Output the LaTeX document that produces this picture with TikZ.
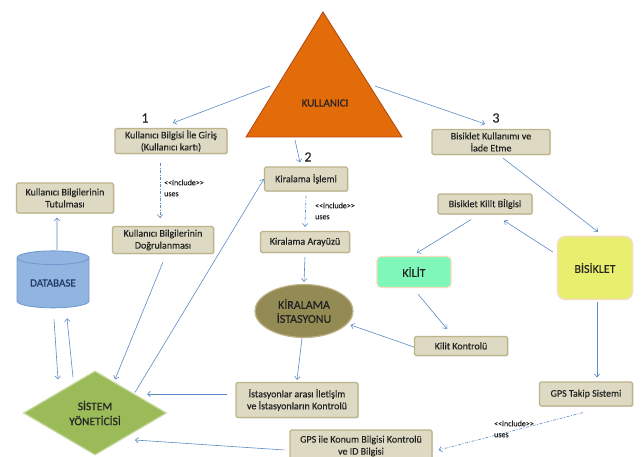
\documentclass[tikz,border=0pt]{standalone}
\usepackage{fontspec}
\setmainfont{Carlito}[FakeBold=0.3]
\newfontfamily\incfont{Carlito}[FakeBold=0.2]
\usetikzlibrary{arrows.meta,shapes.geometric,shadows}
\definecolor{boxfill}{HTML}{DDD9C3}
\definecolor{boxdraw}{HTML}{BDB48A}
\definecolor{arrc}{HTML}{5B8BC7}
\definecolor{trifill}{HTML}{E36C0A}
\definecolor{tridraw}{HTML}{B0460E}
\definecolor{dbfill}{HTML}{92B4E0}
\definecolor{dbdraw}{HTML}{6F98CF}
\definecolor{dbtext}{HTML}{1F3A64}
\definecolor{sysfill}{HTML}{9BBB59}
\definecolor{sysdraw}{HTML}{C7D9A2}
\definecolor{olivefill}{HTML}{948A54}
\definecolor{mintfill}{HTML}{7FF7B8}
\definecolor{yelfill}{HTML}{E8EE6E}
\definecolor{peach}{HTML}{F6DDBE}
\definecolor{txt}{HTML}{222222}
\begin{document}
\begin{tikzpicture}[x=1pt,y=-1pt,
  tbox/.style={draw=boxdraw, line width=1.2pt, fill=boxfill, rounded corners=1.5pt,
    align=center, font=\fontsize{10}{12}\selectfont, text=txt, inner sep=1pt,
    drop shadow={shadow xshift=1pt, shadow yshift=-1pt, opacity=0.25}},
  big/.style={align=center, font=\fontsize{12}{14}\selectfont, text=txt, inner sep=0pt},
  arr/.style={draw=arrc, line width=0.6pt, -{Straight Barb[length=3pt,width=5.5pt]}},
  inc/.style={arr, dash pattern=on 3pt off 1.5pt on 1pt off 1.5pt},
  inclabel/.style={anchor=west, align=left, font=\incfont\fontsize{8}{11}\selectfont, text=txt, inner sep=0pt},
  num/.style={font=\fontsize{14}{14}\selectfont, text=txt, inner sep=0pt}
]
\useasboundingbox (0,0) rectangle (641,457);
\fill[white] (0,0) rectangle (641,457);

% triangle KULLANICI
\coordinate (tA) at (323,12);
\coordinate (tR) at (402,137);
\coordinate (tL) at (246,137);
\draw[fill=trifill, draw=tridraw, line width=0.8pt] (tA) -- (tR) -- (tL) -- cycle;
\node[big, font=\fontsize{11}{13}\selectfont] (kul) at (325,103) {KULLANICI};
\coordinate (t1) at (270,86);
\coordinate (t2) at (295,140);
\coordinate (t3) at (375,86);

% numbers
\node[num] (n1) at (145,118) {1};
\node[num] (n2) at (308,157) {2};
\node[num] (n3) at (496,118) {3};

% boxes
\node[tbox, minimum width=112pt, minimum height=25pt] (b1) at (171,141) {Kullanıcı Bilgisi İle Giriş\\(Kullanıcı kartı)};
\node[tbox, minimum width=97pt, minimum height=30pt] (tut) at (65,198) {Kullanıcı Bilgilerinin\\Tutulması};
\node[tbox, minimum width=101pt, minimum height=27pt] (dog) at (163,240) {Kullanıcı Bilgilerinin\\Doğrulanması};
\node[tbox, minimum width=83pt, minimum height=24pt] (kis) at (306,179) {Kiralama İşlemi};
\node[tbox, minimum width=89pt, minimum height=21pt] (ara) at (305,242) {Kiralama Arayüzü};
\node[tbox, minimum width=93pt, minimum height=19pt] (kk) at (461,346) {Kilit Kontrolü};
\node[tbox, minimum width=122pt, minimum height=35pt] (ist) at (297,400) {İstasyonlar arası İletişim\\ve İstasyonların Kontrolü};
\node[tbox, minimum width=142pt, minimum height=32pt] (gpsk) at (361,446) {GPS ile Konum Bilgisi Kontrolü\\ve ID Bilgisi};
\node[tbox, minimum width=93pt, minimum height=24pt] (gpst) at (586,394) {GPS Takip Sistemi};
\node[tbox, minimum width=94pt, minimum height=20pt] (bkb) at (485,204) {Bisiklet Kilit Bİlgisi};
\node[tbox, minimum width=118pt, minimum height=25pt] (bku) at (491,142) {Bisiklet Kullanımı ve\\İade Etme};

% special shapes
\node[cylinder, shape border rotate=90, aspect=0.3, minimum width=72pt, minimum height=57pt,
  fill=dbfill, draw=dbdraw, line width=0.8pt, big, font=\fontsize{11}{13}\selectfont, text=dbtext] (db) at (53,283) {DATABASE};
\node[diamond, aspect=1.7, minimum width=143pt, minimum height=84pt, fill=sysfill, draw=sysdraw,
  line width=1.2pt, big, font=\fontsize{11.5}{15}\selectfont] (sys) at (95,413) {SİSTEM\\YÖNETİCİSİ};
\node[ellipse, minimum width=98pt, minimum height=53pt, fill=olivefill, draw=boxdraw,
  line width=1.2pt, big] (kst) at (304,311) {KİRALAMA\\İSTASYONU};
\node[rounded corners=4pt, minimum width=74pt, minimum height=31pt, fill=mintfill, draw=peach,
  line width=1.2pt, big] (kilit) at (414,272) {KİLİT};
\node[rounded corners=8pt, minimum width=75pt, minimum height=63pt, fill=yelfill, draw=peach,
  line width=1.5pt, big] (bis) at (595,268) {BİSİKLET};

% connectors
\draw[arr] (t1) -- ([xshift=2pt,yshift=5pt]b1.north);
\draw[arr] (t2) -- ([xshift=-6pt,yshift=4pt]kis.north);
\draw[arr] (t3) -- ([xshift=-6pt,yshift=5pt]bku.north);

\draw[inc] ([xshift=-11pt,yshift=-9pt]b1.south) -- ([xshift=-3pt,yshift=8pt]dog.north);
\node[inclabel] (il1) at (164,188) {<<include>>\\uses};
\draw[inc] ([yshift=-4pt]kis.south) -- ([yshift=4pt]ara.north);
\node[inclabel] (il2) at (315,211) {<<include>>\\uses};
\draw[inc] ([xshift=-3pt,yshift=-6pt]gpst.south) -- ([xshift=6pt,yshift=-4pt]gpsk.east);
\node[inclabel] (il3) at (494,429) {<<include>>\\uses};

\draw[arr] ([yshift=-8pt]dog.south) -- ([xshift=20pt,yshift=-9pt]sys.north);
\draw[arr] ([xshift=40pt,yshift=-22pt]sys.north) -- (kis.west);
\draw[arr] ([yshift=-4pt]ara.south) -- ([yshift=2pt]kst.north);
\draw[arr] ([xshift=-2pt]kst.south) -- ([yshift=2pt]ist.north);
\draw[arr] ([xshift=-8pt,yshift=6pt]ist.west) -- ([xshift=52pt,yshift=19pt]sys.center);
\draw[arr] ([xshift=-5pt,yshift=-4pt]gpsk.west) -- ([xshift=40pt,yshift=-27pt]sys.center);

\draw[arr] ([xshift=1pt,yshift=-11pt]db.south) -- ([xshift=-37pt,yshift=-9pt]sys.north);
\draw[arr] ([xshift=-22pt,yshift=-7pt]sys.north) -- ([xshift=14pt,yshift=-10pt]db.south);
\draw[arr] ([xshift=4pt]db.north) -- ([xshift=-8pt,yshift=-4pt]tut.south);

\draw[arr] ([xshift=12pt,yshift=-3pt]bku.south) -- ([xshift=3pt,yshift=4pt]bis.north);
\draw[arr] ([xshift=-4pt,yshift=16pt]bis.west) -- ([xshift=19pt,yshift=-6pt]bkb.south);
\draw[arr] ([xshift=-14pt,yshift=-5pt]bkb.south) -- ([xshift=3pt,yshift=3pt]kilit.north);
\draw[arr] ([xshift=4pt,yshift=-6pt]kilit.south) -- ([xshift=-14pt,yshift=7pt]kk.north);
\draw[arr] ([yshift=-1pt]kk.west) -- ([xshift=-3pt,yshift=-14pt]kst.east);
\draw[arr] ([xshift=2pt,yshift=-2pt]bis.south) -- ([xshift=11pt,yshift=4pt]gpst.north);
\end{tikzpicture}
\end{document}
